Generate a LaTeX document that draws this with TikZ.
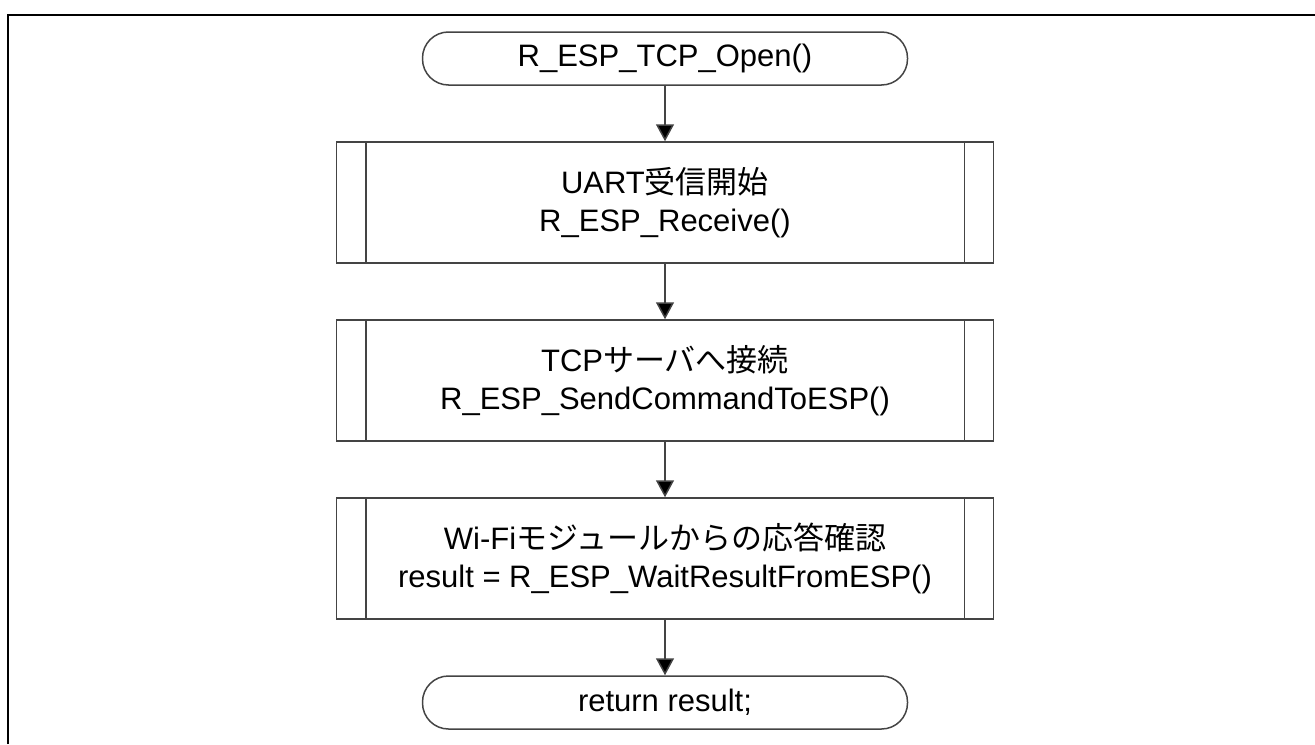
\documentclass[tikz,border=0pt]{standalone}
\usepackage{fontspec}
\setmainfont{Liberation Sans}
\newfontfamily\jpfont{Noto Sans CJK JP}
\newcommand{\jp}[1]{{\jpfont #1}}
\usetikzlibrary{arrows.meta, positioning}
\definecolor{flowline}{HTML}{444444}

\begin{document}
\begin{tikzpicture}[>={Triangle[length=8.5pt,width=9pt]}, x=0.5pt, y=-0.5pt]
          \tikzstyle{term}=[rectangle, rounded corners=13pt, draw=flowline, line width=0.75pt,
            minimum width=242.5pt, minimum height=26.5pt, inner sep=0pt, font=\fontsize{15.5}{19}\selectfont]
          \tikzstyle{proc}=[rectangle, draw=flowline, line width=0.75pt, align=center,
            minimum width=328.5pt, minimum height=60.5pt, inner sep=0pt, font=\fontsize{15.5}{19}\selectfont]
          \tikzstyle{flow}=[draw=flowline, line width=0.75pt]

          \useasboundingbox (0,0) rectangle (1315,744);
          \draw[line width=1.3pt] (8,744) -- (8,15) -- (1315,15);

          \node[term] at (665,58.5) (open) {R\_ESP\_TCP\_Open()};
          \node[proc] at (665,202.5) (recv) {UART\jp{受信開始}\\R\_ESP\_Receive()};
          \node[proc] at (665,380.5) (conn) {TCP\jp{サーバへ接続}\\R\_ESP\_SendCommandToESP()};
          \node[proc] at (665,558.5) (wait) {Wi-Fi\jp{モジュールからの応答確認}\\result = R\_ESP\_WaitResultFromESP()};
          \node[term] at (665,702.5) (ret) {return result;};

          \foreach \n in {recv, conn, wait} {
            \draw[flow] ([xshift=15pt]\n.north west) -- ([xshift=15pt]\n.south west);
            \draw[flow] ([xshift=-15pt]\n.north east) -- ([xshift=-15pt]\n.south east);
          }

          \path[flow] (open) edge[->] (recv);
          \path[flow] (recv) edge[->] (conn);
          \path[flow] (conn) edge[->] (wait);
          \path[flow] (wait) edge[->] (ret);

        \end{tikzpicture}
\end{document}
